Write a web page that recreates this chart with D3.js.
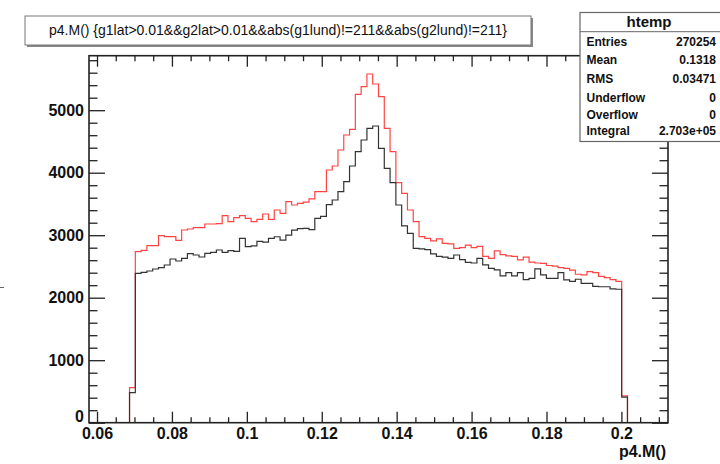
<!DOCTYPE html>
<html>
<head>
<meta charset="utf-8">
<script src="https://cdn.jsdelivr.net/npm/d3@7"></script>
<style>
  html, body { margin: 0; padding: 0; background: #fff; }
  svg { display: block; font-family: "Liberation Sans", Arial, Helvetica, sans-serif; }
</style>
</head>
<body>
<svg id="chart" width="720" height="464"></svg>
<script>
// ---- data ----
const histRange = [0.05786, 0.21244];   // histogram axis range (100 bins)
const nBins = 100;
const yMaxValue = 5872;

// bin contents, 100 bins each (7 empty, edge bin, 84 full bins, edge bin, 7 empty)
const redCounts = [
  0,0,0,0,0,0,0, 560,
  2736,2758,2832,2832,2992,2976,2976,2918,3083,3099,
  3120,3120,3179,3179,3184,3312,3216,3280,3312,3270,
  3216,3254,3339,3254,3403,3350,3536,3483,3510,3530,
  3580,3696,3696,4043,4107,4363,4603,4694,5254,5376,
  5579,5419,5216,4710,4336,3840,3670,3403,3216,2976,
  2950,2910,2940,2870,2860,2790,2800,2840,2800,2820,
  2660,2630,2750,2690,2670,2660,2605,2650,2570,2555,
  2550,2515,2505,2480,2470,2440,2375,2365,2416,2400,
  2340,2320,2290,2260,
  430, 0,0,0,0,0,0,0
];
const blackCounts = [
  0,0,0,0,0,0,0, 480,
  2390,2406,2427,2459,2480,2523,2619,2587,2630,2704,
  2683,2651,2710,2726,2763,2726,2752,2742,2950,2816,
  2830,2900,2890,2950,2975,2920,3000,3080,3105,3110,
  3090,3270,3300,3490,3563,3696,3856,4107,4336,4523,
  4710,4747,4390,4070,3840,3483,3150,3030,2790,2780,
  2770,2700,2660,2650,2630,2683,2610,2565,2555,2630,
  2525,2470,2445,2350,2400,2350,2400,2290,2310,2460,
  2365,2310,2310,2400,2285,2260,2295,2230,2230,2180,
  2175,2175,2140,2135,
  410, 0,0,0,0,0,0,0
];

const xTickValues = [0.06, 0.08, 0.1, 0.12, 0.14, 0.16, 0.18, 0.2];
const xTickLabels = ["0.06", "0.08", "0.1", "0.12", "0.14", "0.16", "0.18", "0.2"];
const yTickValues = [0, 1000, 2000, 3000, 4000, 5000];
const yTickLabels = ["0", "1000", "2000", "3000", "4000", "5000"];

const titleText = "p4.M() {g1lat>0.01&&g2lat>0.01&&abs(g1lund)!=211&&abs(g2lund)!=211}";
const xAxisTitle = "p4.M()";
const statsName = "htemp";
const statsLabels = ["Entries", "Mean", "RMS", "Underflow", "Overflow", "Integral"];
const statsValues = ["270254", "0.1318", "0.03471", "0", "0", "2.703e+05"];

// ---- layout ----
const L = 89, R = 668, T = 55.7, B = 422.7;
const svg = d3.select("#chart");

const x = d3.scaleLinear().domain(histRange).range([L, R]);
const y = d3.scaleLinear().domain([0, yMaxValue]).range([B, T]);

const binW = (histRange[1] - histRange[0]) / nBins;
function stepPoints(counts) {
  const pts = counts.map((c, i) => [histRange[0] + i * binW, c]);
  pts.push([histRange[1], counts[counts.length - 1]]);
  return pts;
}
const stepLine = d3.line().x(d => x(d[0])).y(d => y(d[1])).curve(d3.curveStepAfter);

svg.append("defs").append("clipPath").attr("id", "plotclip")
  .append("rect").attr("x", L).attr("y", T).attr("width", R - L).attr("height", B - T);

const plot = svg.append("g").attr("clip-path", "url(#plotclip)");
plot.append("path").attr("d", stepLine(stepPoints(redCounts)))
  .attr("fill", "none").attr("stroke", "#ff4444").attr("stroke-width", 1.2);
plot.append("path").attr("d", stepLine(stepPoints(blackCounts)))
  .attr("fill", "none").attr("stroke", "#333").attr("stroke-width", 1.2);

// minor tick values
const xMinor = d3.range(0.06, 0.2126, 0.005).map(v => +v.toFixed(4))
  .filter(v => v >= histRange[0] && v <= histRange[1] && !xTickValues.some(t => Math.abs(t - v) < 1e-6));
const yMinor = d3.range(0, yMaxValue, 200).filter(v => v % 1000 !== 0);

const axisColor = "#222";
function styleAxis(g) {
  g.select(".domain").remove();
  g.selectAll(".tick line").attr("stroke", axisColor).attr("stroke-width", 1.3);
}

// bottom axis
const gB = svg.append("g").attr("transform", `translate(0,${B})`);
gB.call(d3.axisBottom(x).tickValues(xTickValues).tickSize(-11).tickPadding(5)
  .tickFormat((d, i) => xTickLabels[i]));
gB.call(styleAxis);
gB.selectAll(".tick text").attr("font-size", 16).attr("font-weight", "bold").attr("fill", "#111")
  .attr("font-family", '"Liberation Sans", Arial, sans-serif');
svg.append("g").attr("transform", `translate(0,${B})`)
  .call(d3.axisBottom(x).tickValues(xMinor).tickSize(-5.5).tickFormat(""))
  .call(styleAxis);

// top axis (ticks only)
svg.append("g").attr("transform", `translate(0,${T})`)
  .call(d3.axisTop(x).tickValues(xTickValues).tickSize(-11).tickFormat(""))
  .call(styleAxis);
svg.append("g").attr("transform", `translate(0,${T})`)
  .call(d3.axisTop(x).tickValues(xMinor).tickSize(-5.5).tickFormat(""))
  .call(styleAxis);

// left axis
const gL = svg.append("g").attr("transform", `translate(${L},0)`);
gL.call(d3.axisLeft(y).tickValues(yTickValues).tickSize(-16).tickPadding(5)
  .tickFormat((d, i) => yTickLabels[i]));
gL.call(styleAxis);
gL.selectAll(".tick text").attr("font-size", 16).attr("font-weight", "bold").attr("fill", "#111")
  .attr("font-family", '"Liberation Sans", Arial, sans-serif')
  .attr("dy", d => d === 0 ? "-0.05em" : "0.32em");
svg.append("g").attr("transform", `translate(${L},0)`)
  .call(d3.axisLeft(y).tickValues(yMinor).tickSize(-8.5).tickFormat(""))
  .call(styleAxis);

// right axis (ticks only)
svg.append("g").attr("transform", `translate(${R},0)`)
  .call(d3.axisRight(y).tickValues(yTickValues).tickSize(-16).tickFormat(""))
  .call(styleAxis);
svg.append("g").attr("transform", `translate(${R},0)`)
  .call(d3.axisRight(y).tickValues(yMinor).tickSize(-8.5).tickFormat(""))
  .call(styleAxis);

// frame
svg.append("rect").attr("x", L).attr("y", T).attr("width", R - L).attr("height", B - T)
  .attr("fill", "none").attr("stroke", axisColor).attr("stroke-width", 1.6);

// x axis title
svg.append("text").attr("x", 666).attr("y", 457).attr("text-anchor", "end")
  .attr("font-size", 16).attr("font-weight", "bold").attr("fill", "#111").text(xAxisTitle);

// small mark at the left edge of the picture
svg.append("line").attr("x1", 0).attr("x2", 4).attr("y1", 287.5).attr("y2", 287.5)
  .attr("stroke", "#666").attr("stroke-width", 1);

// title box
const tb = { x: 25, y: 16, w: 506, h: 29 };
svg.append("rect").attr("x", tb.x + 2).attr("y", tb.y + 2).attr("width", tb.w).attr("height", tb.h)
  .attr("fill", "#888");
svg.append("rect").attr("x", tb.x).attr("y", tb.y).attr("width", tb.w).attr("height", tb.h)
  .attr("fill", "#fff").attr("stroke", "#777").attr("stroke-width", 1);
svg.append("text").attr("x", tb.x + tb.w / 2).attr("y", tb.y + tb.h / 2).attr("dy", "0.35em")
  .attr("text-anchor", "middle").attr("font-size", 14).attr("fill", "#111").text(titleText);

// stats box
const sb = { x: 580, y: 12.5, w: 142, h: 129 };
svg.append("rect").attr("x", sb.x).attr("y", sb.y).attr("width", sb.w).attr("height", sb.h)
  .attr("fill", "#fff").attr("stroke", "#666").attr("stroke-width", 1.2);
svg.append("line").attr("x1", sb.x).attr("x2", sb.x + sb.w).attr("y1", 31.7).attr("y2", 31.7)
  .attr("stroke", "#666").attr("stroke-width", 1);
svg.append("text").attr("x", 649).attr("y", 22).attr("dy", "0.35em").attr("text-anchor", "middle")
  .attr("font-size", 15).attr("font-weight", "bold").attr("fill", "#111").text(statsName);
const rowY = [41.7, 60, 79, 97.3, 115, 131];
statsLabels.forEach((lab, i) => {
  svg.append("text").attr("x", 586.5).attr("y", rowY[i]).attr("dy", "0.35em")
    .attr("font-size", 12).attr("font-weight", "bold").attr("fill", "#111").text(lab);
  svg.append("text").attr("x", 716).attr("y", rowY[i]).attr("dy", "0.35em").attr("text-anchor", "end")
    .attr("font-size", 12).attr("font-weight", "bold").attr("fill", "#111").text(statsValues[i]);
});
</script>
</body>
</html>
